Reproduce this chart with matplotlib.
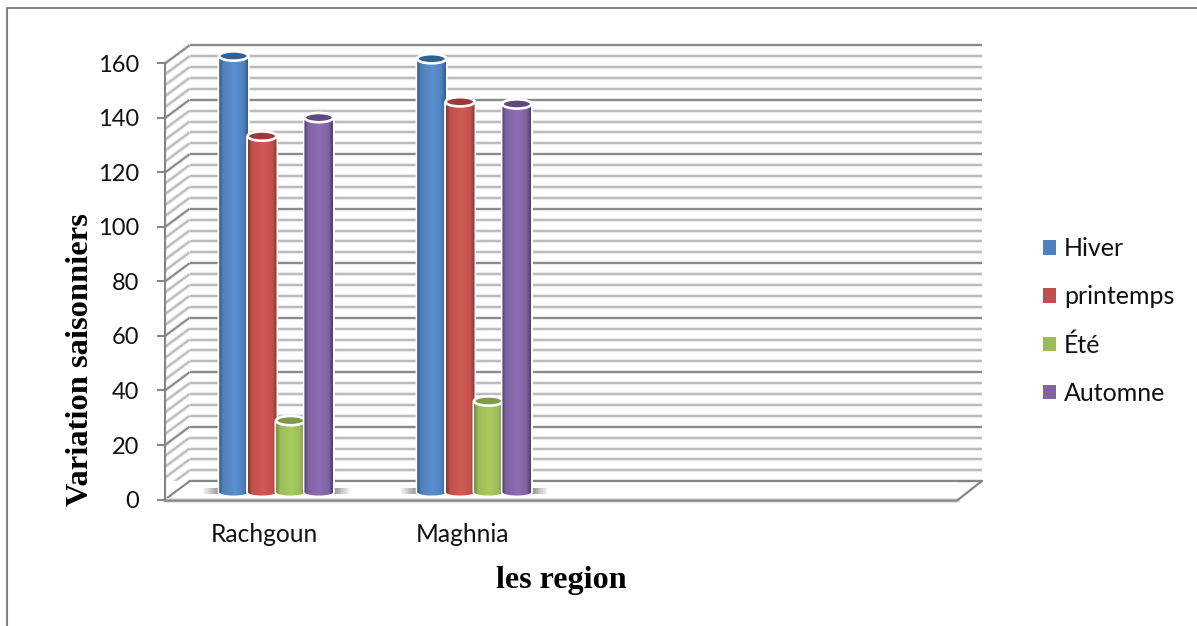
#!/usr/bin/env python3

import matplotlib

matplotlib.use("Agg")
import matplotlib.pyplot as plt
import numpy as np
from matplotlib.colors import LinearSegmentedColormap
from matplotlib.lines import Line2D
from matplotlib.patches import Ellipse, PathPatch, Patch
from matplotlib.path import Path

regions = ["Rachgoun", "Maghnia", "", ""]
seasons = ["Hiver", "printemps", "Été", "Automne"]
hiver = [160, 159]
printemps = [130.6, 143.2]
ete = [26.2, 33.4]
automne = [137.4, 142.4]
y_ticks = [0, 20, 40, 60, 80, 100, 120, 140, 160]

W, H = 1197, 626
# floor and wall depth, in data units
DEPTH_X = 0.124
DEPTH_Y = 6.7
BAR_W = 0.146
BAR_STEP = 0.1435

# dark edge, base, highlight, top ellipse
palette = {
    "Hiver": ("#2f5b8c", "#4f81bd", "#5a8fd0", "#2f6196"),
    "printemps": ("#8a3431", "#c0504d", "#d25a56", "#9a3a37"),
    "Été": ("#6f8a3a", "#9bbb59", "#a9cc60", "#7f9a48"),
    "Automne": ("#4f3a6e", "#8064a2", "#8c6eb2", "#5f4880"),
}

plt.rcParams["font.family"] = ["Lato", "DejaVu Sans"]


def draw_grid(ax):
    """Back wall, side wall and floor lines."""
    for v in np.arange(0, 161, 4):
        major = v % 20 == 0
        color = "#8a8a8a" if major else "#bcbcbc"
        xs_back = [DEPTH_X, 4 + DEPTH_X]
        ys_back = [v + DEPTH_Y, v + DEPTH_Y]
        xs_side = [0, DEPTH_X]
        ys_side = [v, v + DEPTH_Y]
        for xs, ys in ((xs_back, ys_back), (xs_side, ys_side)):
            ax.plot(xs, ys, color="#eeeeee", lw=3, zorder=1, clip_on=False,
                    solid_capstyle="butt")
            ax.plot(xs, ys, color=color, lw=1.5, zorder=1.1, clip_on=False,
                    solid_capstyle="butt")

    # front edge of the floor and front vertical axis
    ax.fill_between([0, 4], [-0.4, -0.4], [DEPTH_Y, DEPTH_Y], color="white", zorder=1.15)
    ax.plot([DEPTH_X, 4 + DEPTH_X], [DEPTH_Y, DEPTH_Y], color="#858585", lw=1.5,
            zorder=1.2, clip_on=False)
    ax.plot([0, DEPTH_X], [0, DEPTH_Y], color="#858585", lw=1.5, zorder=1.2, clip_on=False)
    ax.plot([0, 4], [0, 0], color="#e0e0e0", lw=3.5, zorder=1.2, clip_on=False)
    ax.plot([0, 4, 4 + DEPTH_X], [-0.4, -0.4, DEPTH_Y], color="#858585", lw=1.6,
            zorder=1.3, clip_on=False)
    ax.plot([0, 0], [0, 160], color="#858585", lw=1.5, zorder=1.3, clip_on=False)


def draw_shadow(ax, x0, x1):
    """Soft shadow on the floor on both sides of a bar group."""
    span = 0.095
    base = 2.75
    for left, right, ramp in ((x0 - span, x0 + 0.01, (0, 0.8)),
                              (x1 - 0.01, x1 + span, (0.8, 0))):
        rgba = np.zeros((1, 12, 4))
        rgba[..., :3] = 0.4
        rgba[..., 3] = np.linspace(ramp[0], ramp[1], 12).reshape(1, -1)
        ax.imshow(rgba, extent=[left, right, base - 0.9, base + 1.3],
                  aspect="auto", zorder=2, interpolation="nearest", clip_on=False)


def draw_cylinder(ax, xc, value, season, z):
    """One cylinder: shaded body with a round foot and a dark top ellipse."""
    dark, mid, light, top = palette[season]
    base = 2.75
    y_top = base + value
    rx = BAR_W / 2
    ry = 1.3

    theta = np.linspace(np.pi, 2 * np.pi, 30)
    verts = [(xc - rx, y_top)]
    verts += [(xc + rx * np.cos(t), base + ry * np.sin(t)) for t in theta]
    verts += [(xc + rx, y_top), (xc - rx, y_top)]
    outline = Path(verts)

    ax.add_patch(PathPatch(outline, facecolor="none", edgecolor="white", lw=2.2,
                           zorder=z, clip_on=False))
    cmap = LinearSegmentedColormap.from_list(
        season, [(0, dark), (0.14, mid), (0.55, light), (0.85, mid), (1, dark)]
    )
    img = ax.imshow(np.linspace(0, 1, 128).reshape(1, -1), cmap=cmap,
                    extent=[xc - rx, xc + rx, base - ry, y_top], aspect="auto",
                    zorder=z + 0.1)
    img.set_clip_path(PathPatch(outline, transform=ax.transData))
    img.set_clip_box(fig.bbox)

    ax.add_patch(Ellipse((xc, y_top), 2 * rx, 3.4, facecolor=top,
                         edgecolor="white", lw=1.9, zorder=z + 0.2, clip_on=False))


fig = plt.figure(figsize=(W / 100, H / 100), dpi=100)
ax = fig.add_axes([165 / W, (H - 499.5) / H, 792 / W, 436 / H])

draw_grid(ax)

series = [hiver, printemps, ete, automne]
for i in range(2):
    center = i + 0.5 + DEPTH_X / 2
    draw_shadow(ax, center - 2 * BAR_STEP, center + 2 * BAR_STEP)
    for j, season in enumerate(seasons):
        xc = center + (j - 1.5) * BAR_STEP
        draw_cylinder(ax, xc, series[j][i], season, 3 + j)

ax.set_xlim(0, 4)
ax.set_ylim(0, 160)
for spine in ax.spines.values():
    spine.set_visible(False)
ax.patch.set_alpha(0)

ax.set_yticks(y_ticks)
ax.set_yticklabels([str(t) for t in y_ticks])
ax.tick_params(axis="y", length=5.8, width=1.4, color="#858585", pad=13,
               labelsize=17, labelcolor="#111111")
ax.set_xticks(np.arange(4) + 0.5)
ax.set_xticklabels(regions)
ax.tick_params(axis="x", length=0, pad=17, labelsize=17.7, labelcolor="#111111")

ax.set_xlabel("les region", family="Liberation Serif", fontweight="bold", fontsize=23.1)
ax.xaxis.set_label_coords(0.5, -0.152)
ax.set_ylabel("Variation saisonniers", family="Liberation Serif", fontweight="bold",
              fontsize=23.4)
ax.yaxis.set_label_coords(-0.088, 0.322)

handles = [Patch(facecolor=palette[s][1], edgecolor="none") for s in seasons]
fig.legend(handles, seasons, loc="center left", bbox_to_anchor=(1043 / W, (H - 321) / H),
           frameon=False, fontsize=18, handlelength=0.52, handleheight=0.52,
           handletextpad=0.33, labelspacing=1.0, borderpad=0, borderaxespad=0,
           labelcolor="#111111")

# outer frame, open on the right and at the bottom
fig.add_artist(Line2D([6.5 / W, 6.5 / W, 1], [0, (H - 7.5) / H, (H - 7.5) / H],
                      color="#858585", lw=1.5))

fig.savefig("out.png", dpi=100)
